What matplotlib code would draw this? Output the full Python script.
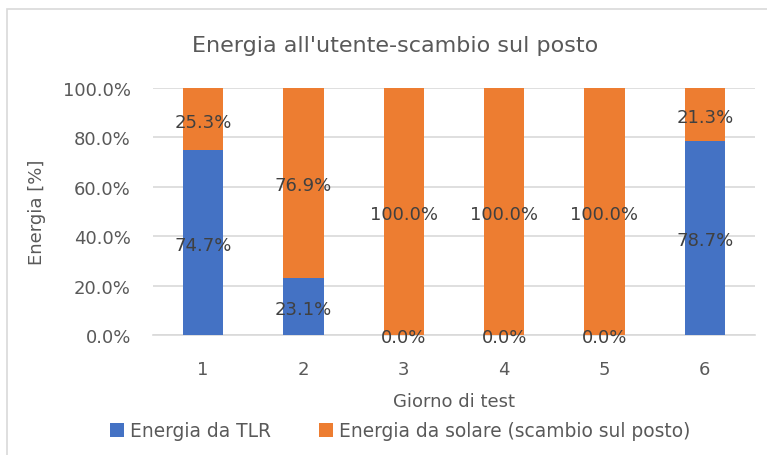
import matplotlib
matplotlib.use("Agg")
import matplotlib.pyplot as plt
from matplotlib.patches import Rectangle
from matplotlib.ticker import PercentFormatter

# test days and share of energy per source (percent)
days = ["1", "2", "3", "4", "5", "6"]
tlr = [74.7, 23.1, 0.0, 0.0, 0.0, 78.7]
solare = [25.3, 76.9, 100.0, 100.0, 100.0, 21.3]

BLUE = "#4472C4"
ORANGE = "#ED7D31"
TEXT = "#595959"
LABEL = "#404040"
GRID = "#D9D9D9"

plt.rcParams["font.family"] = ["DejaVu Sans"]

fig = plt.figure(figsize=(7.67, 4.56), dpi=100)
ax = fig.add_axes([153 / 767, 120 / 456, 602 / 767, 247 / 456])

# chart frame
fig.patches.append(Rectangle((7 / 767, -0.05), 1.2, (446 / 456) + 0.05,
                             transform=fig.transFigure, fill=False,
                             edgecolor="#D9D9D9", lw=1.2))

x = list(range(1, len(days) + 1))
b1 = ax.bar(x, tlr, width=0.4, color=BLUE, zorder=3, label="Energia da TLR")
b2 = ax.bar(x, solare, width=0.4, bottom=tlr, color=ORANGE, zorder=3,
            label="Energia da solare (scambio sul posto)")

for bars, vals, base in ((b1, tlr, [0] * len(tlr)), (b2, solare, tlr)):
    for rect, v, b in zip(bars, vals, base):
        ax.text(rect.get_x() + rect.get_width() / 2, b + v / 2 - 1.0, f"{v:.1f}%",
                ha="center", va="center", fontsize=13, color=LABEL, zorder=4)

ax.set_xlim(0.5, 6.5)
ax.set_ylim(0, 100)
ax.set_yticks([0, 20, 40, 60, 80, 100])
ax.yaxis.set_major_formatter(PercentFormatter(decimals=1))
ax.set_xticks(x)
ax.set_xticklabels(days)
ax.grid(axis="y", color=GRID, lw=1.2, zorder=0)
for side in ("top", "right", "left"):
    ax.spines[side].set_visible(False)
ax.spines["bottom"].set_color(GRID)
ax.spines["bottom"].set_linewidth(1.2)
ax.tick_params(length=0, labelsize=13, colors=TEXT)
ax.tick_params(axis="y", pad=16)
ax.tick_params(axis="x", pad=18)

ax.set_xlabel("Giorno di test", fontsize=13, color=TEXT, labelpad=10)
ax.set_ylabel("Energia [%]", fontsize=13, color=TEXT, labelpad=12)
fig.suptitle("Energia all'utente-scambio sul posto", x=395 / 767, y=1 - 46 / 456,
             va="center", fontsize=16, color=TEXT)

fig.legend(handles=[b1, b2], loc="center", bbox_to_anchor=(400 / 767, 1 - 432 / 456),
           ncol=2, frameon=False, fontsize=13.4, labelcolor=TEXT,
           handlelength=0.75, handleheight=0.75, handletextpad=0.3, columnspacing=2.6)

fig.savefig("out.png", dpi=100)
